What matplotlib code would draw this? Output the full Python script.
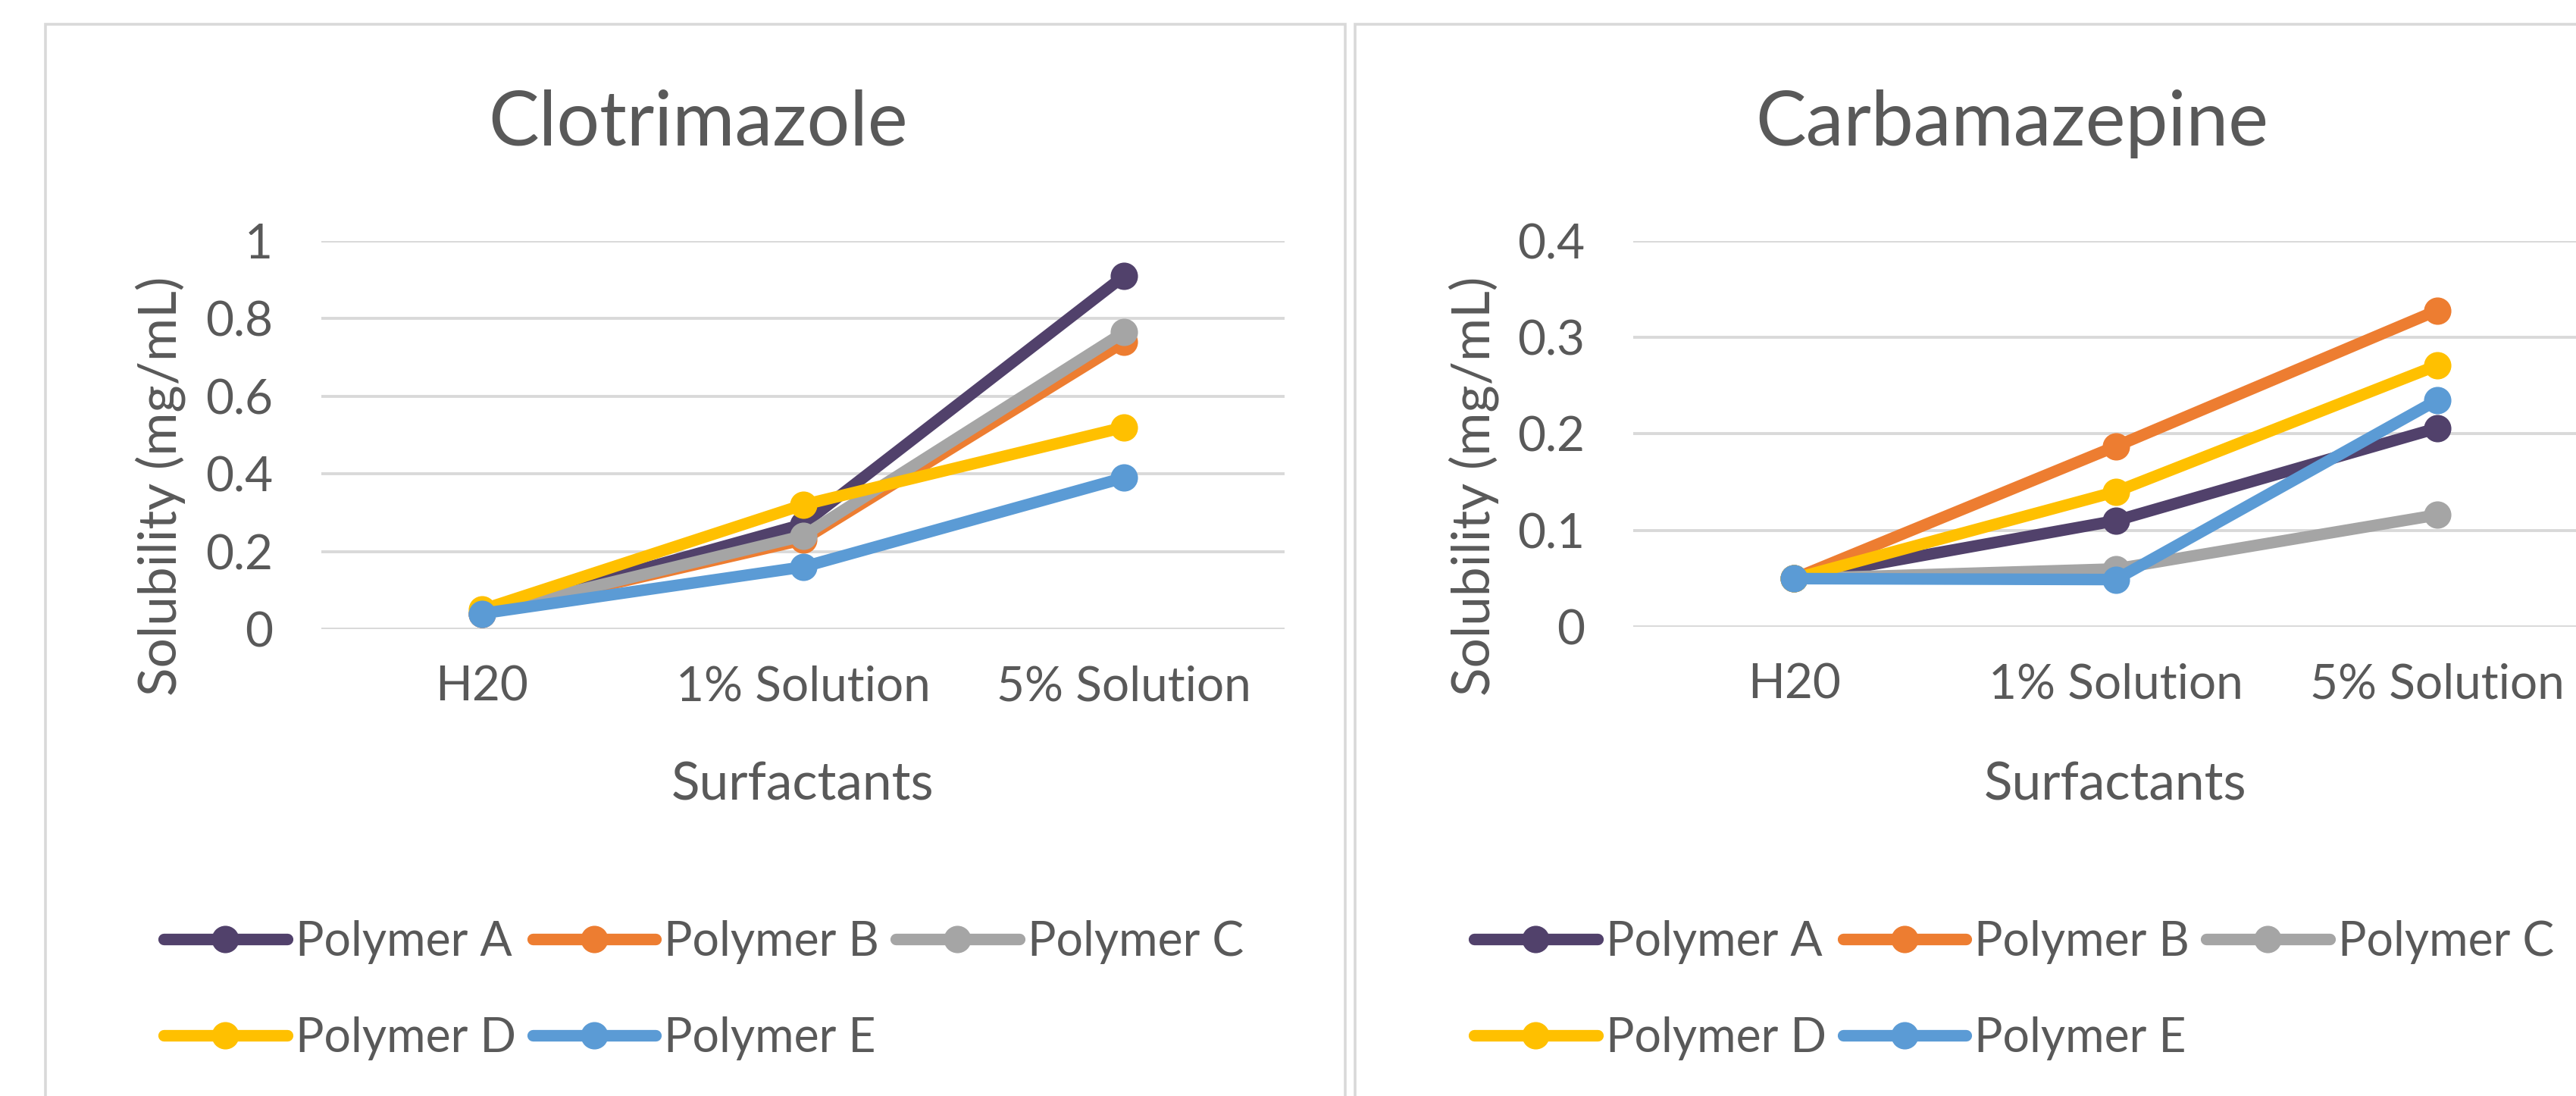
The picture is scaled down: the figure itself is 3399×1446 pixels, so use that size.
import matplotlib
matplotlib.use("Agg")
import matplotlib.pyplot as plt
from matplotlib.patches import Rectangle

plt.rcParams["font.family"] = ["Lato", "DejaVu Sans"]

# dados
categorias = ["H20", "1% Solution", "5% Solution"]
series = ["Polymer A", "Polymer B", "Polymer C", "Polymer D", "Polymer E"]
cores = ["#51416B", "#ED7D31", "#A5A5A5", "#FFC000", "#5B9BD5"]

clotrimazol = {
    "Polymer A": [0.04, 0.27, 0.91],
    "Polymer B": [0.04, 0.23, 0.74],
    "Polymer C": [0.04, 0.24, 0.765],
    "Polymer D": [0.05, 0.32, 0.52],
    "Polymer E": [0.04, 0.16, 0.39],
}
carbamazepina = {
    "Polymer A": [0.05, 0.11, 0.206],
    "Polymer B": [0.05, 0.187, 0.328],
    "Polymer C": [0.05, 0.06, 0.116],
    "Polymer D": [0.05, 0.14, 0.271],
    "Polymer E": [0.05, 0.049, 0.235],
}
ticks_clo = [0, 0.2, 0.4, 0.6, 0.8, 1]
ticks_carb = [0, 0.1, 0.2, 0.3, 0.4]

W, H = 3399, 1446
DPI = 200
COR_TEXTO = "#595959"
COR_GRADE = "#D9D9D9"


def caixa(x0, y0, x1, y1):
    """Converte caixa em pixels (origem no topo) para coordenadas da figura."""
    return [x0 / W, 1 - y1 / H, (x1 - x0) / W, (y1 - y0) / H]


def painel(fig, dados, ticks, titulo, ax_px, borda_px, titulo_x, ylabel_x, leg_x):
    x0, y0, x1, y1 = borda_px
    fig.patches.append(Rectangle((x0 / W, 1 - y1 / H), (x1 - x0) / W, (y1 - y0) / H,
                                 transform=fig.transFigure, fill=False,
                                 edgecolor=COR_GRADE, linewidth=1.3))

    ax = fig.add_axes(caixa(*ax_px))
    x = list(range(len(categorias)))
    linhas = {}
    for nome, cor in zip(series, cores):
        linhas[nome], = ax.plot(x, dados[nome], color=cor, linewidth=5.5, marker="o",
                                markersize=12, label=nome, solid_capstyle="round")

    ax.set_xlim(-0.5, len(categorias) - 0.5)
    ax.set_ylim(ticks[0], ticks[-1])
    ax.set_yticks(ticks)
    ax.set_yticklabels([f"{t:g}" for t in ticks])
    ax.set_xticks(x)
    ax.set_xticklabels(categorias)
    ax.tick_params(axis="y", length=0, pad=23, labelsize=23, labelcolor=COR_TEXTO)
    ax.tick_params(axis="x", length=0, pad=17, labelsize=23, labelcolor=COR_TEXTO)
    ax.yaxis.grid(True, color=COR_GRADE, linewidth=1.4)
    ax.set_axisbelow(True)
    for s in ax.spines.values():
        s.set_visible(False)
    ax.patch.set_alpha(0)

    fig.text(titulo_x / W, 1 - 192 / H, titulo, ha="center", va="baseline",
             fontsize=36, color=COR_TEXTO)
    fig.text(((ax_px[0] + ax_px[2]) / 2) / W, 1 - 1056 / H, "Surfactants",
             ha="center", va="baseline", fontsize=25, color=COR_TEXTO)
    fig.text(ylabel_x / W, 1 - 641 / H, "Solubility (mg/mL)", rotation=90,
             ha="center", va="center", fontsize=25, color=COR_TEXTO)

    # legenda preenche por coluna; reordena para ficar por linha (A B C / D E)
    ordem = ["Polymer A", "Polymer D", "Polymer B", "Polymer E", "Polymer C"]
    ax.legend([linhas[n] for n in ordem], ordem,
              loc="upper left", bbox_to_anchor=(leg_x / W, 1 - 1214 / H),
              bbox_transform=fig.transFigure, ncol=3, frameon=False,
              fontsize=22.5, labelcolor=COR_TEXTO, handlelength=2.6,
              handletextpad=0.18, columnspacing=0.35, labelspacing=1.1,
              borderpad=0, borderaxespad=0)
    return ax


fig = plt.figure(figsize=(W / DPI, H / DPI), dpi=DPI)
fig.patch.set_facecolor("white")

painel(fig, clotrimazol, ticks_clo, "Clotrimazole",
       ax_px=(424, 318, 1695, 830), borda_px=(60, 32, 1775, 1500),
       titulo_x=921, ylabel_x=212, leg_x=216)
painel(fig, carbamazepina, ticks_carb, "Carbamazepine",
       ax_px=(2155, 318, 3428, 827), borda_px=(1788, 32, 3500, 1500),
       titulo_x=2655, ylabel_x=1945, leg_x=1945)

fig.savefig("out.png", dpi=DPI)
